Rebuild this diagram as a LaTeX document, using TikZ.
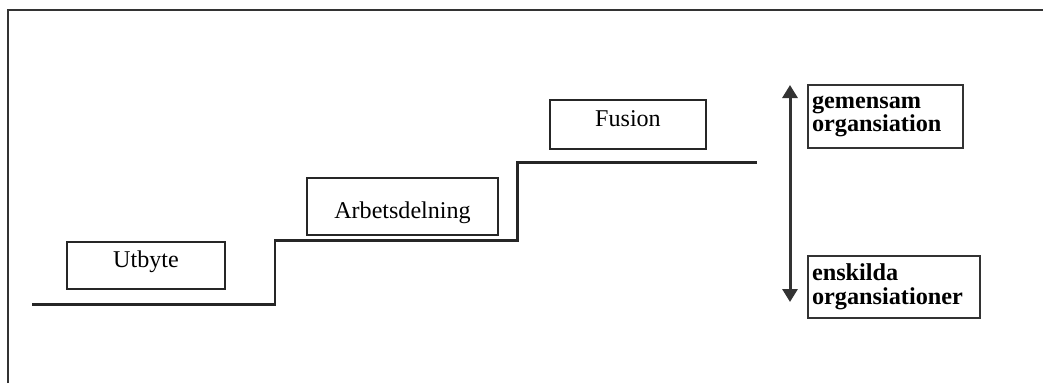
\documentclass[tikz,border=0pt]{standalone}
\usepackage{fontspec}
\setmainfont{Liberation Serif}
\usetikzlibrary{arrows.meta}

\begin{document}
\begin{tikzpicture}[x=0.02cm, y=-0.02cm,
    stagebox/.style={draw=black!85, line width=1.5pt, inner sep=0pt,
        font=\fontsize{13.7}{16}\selectfont},
    levelbox/.style={draw=black!80, line width=0.9pt, inner xsep=0.08cm, inner ysep=0pt,
        align=left, font=\fontsize{13.8}{13.4}\selectfont\bfseries}]
    \useasboundingbox (0,0) rectangle (1043,383);

    % Frame (cut off at right and bottom)
    \draw[black!80, line width=0.9pt] (8,383) -- (8,10) -- (1043,10);

    % Staircase
    \draw[black!85, line width=1.7pt] (32,304) -- (275,304) -- (275,240) -- (517,240)
        -- (517,162) -- (757,162);

    % Steps
    \node[stagebox, minimum width=3.16cm, minimum height=0.94cm,
        text height=0.3cm, text depth=0.24cm] (utbyte) at (146,265.5) {Utbyte};
    \node[stagebox, minimum width=3.82cm, minimum height=1.14cm,
        text height=0.46cm, text depth=0cm] (arbete) at (402.5,206.5) {Arbetsdelning};
    \node[stagebox, minimum width=3.12cm, minimum height=0.98cm,
        text height=0.3cm, text depth=0.24cm] (fusion) at (628,124.5) {Fusion};

    % Scale on the right
    \coordinate (topp) at (790,85);
    \coordinate (botten) at (790,302);
    \draw[{Triangle[length=0.26cm, width=0.3cm]}-{Triangle[length=0.26cm, width=0.3cm]},
        black!80, line width=1.7pt] (topp) -- (botten);
    \node[levelbox, minimum width=3.1cm, minimum height=1.26cm, text width=2.94cm] (gemensam)
        at (885.5,116.5) {gemensam\\organsiation};
    \node[levelbox, minimum width=3.44cm, minimum height=1.24cm, text width=3.28cm] (enskilda)
        at (894,287) {enskilda\\organsiationer};
\end{tikzpicture}
\end{document}
